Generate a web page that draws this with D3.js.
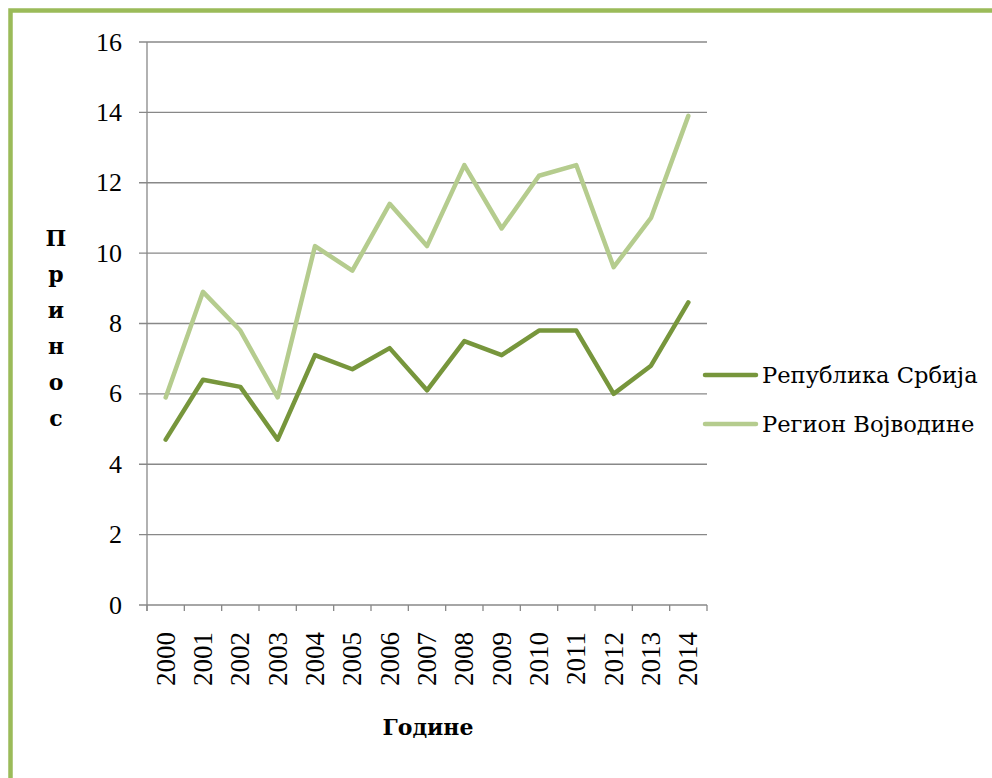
<!DOCTYPE html>
<html><head><meta charset="utf-8">
<script src="https://cdn.jsdelivr.net/npm/d3@7"></script>
<style>body{margin:0;background:#fff}svg{display:block}</style>
</head><body>
<svg id="c" width="992" height="778"></svg>
<script>
const years = ["2000","2001","2002","2003","2004","2005","2006","2007","2008","2009","2010","2011","2012","2013","2014"];
const srbija = [4.7,6.4,6.2,4.7,7.1,6.7,7.3,6.1,7.5,7.1,7.8,7.8,6.0,6.8,8.6];
const vojvodina = [5.9,8.9,7.8,5.9,10.2,9.5,11.4,10.2,12.5,10.7,12.2,12.5,9.6,11.0,13.9];
const seriesNames = ["Република Србија","Регион Војводине"];
const yTicks = [0,2,4,6,8,10,12,14,16];
const yTitle = "Принос";
const xTitle = "Године";

const svg = d3.select("#c");
const font = "'Liberation Serif', serif";
const font2 = "'DejaVu Serif', serif";
// frame
svg.append("path").attr("d","M10.5,778 L10.5,10.5 L992,10.5").attr("fill","none").attr("stroke","#9BBB59").attr("stroke-width",4.5);

const L=147, R=707, T=42, B=605;
const x = d3.scaleBand().domain(years).range([L,R]);
const y = d3.scaleLinear().domain([0,16]).range([B,T]);

// gridlines
svg.append("g").selectAll("line").data(yTicks).join("line")
  .attr("x1",L-8).attr("x2",R).attr("y1",d=>y(d)).attr("y2",d=>y(d))
  .attr("stroke","#888").attr("stroke-width",1.3);
// y axis line
svg.append("line").attr("x1",L).attr("x2",L).attr("y1",T).attr("y2",B+6).attr("stroke","#888").attr("stroke-width",1.3);
// x ticks
const xt = years.map((d,i)=>x(d)).concat([R]);
svg.append("g").selectAll("line").data(xt).join("line")
  .attr("x1",d=>d).attr("x2",d=>d).attr("y1",B).attr("y2",B+6).attr("stroke","#888").attr("stroke-width",1.3);
// y labels
svg.append("g").selectAll("text").data(yTicks).join("text")
  .attr("x",122).attr("y",d=>y(d)).attr("dy","0.33em").attr("text-anchor","end")
  .attr("font-family",font).attr("font-size",26).attr("fill","#000").text(d=>d);
// x labels
svg.append("g").selectAll("text").data(years).join("text")
  .attr("transform",d=>`translate(${x(d)+x.bandwidth()/2},632) rotate(-90)`)
  .attr("dy","0.33em").attr("text-anchor","end")
  .attr("font-family",font).attr("font-size",27).attr("fill","#000").text(d=>d);

const line = d3.line().x((d,i)=>x(years[i])+x.bandwidth()/2).y(d=>y(d));
const colors = ["#77963C","#B5CC8E"];
[vojvodina, srbija].forEach((s,k)=>{
  svg.append("path").attr("d",line(s)).attr("fill","none")
    .attr("stroke",colors[1-k]).attr("stroke-width",4.5).attr("stroke-linejoin","round").attr("stroke-linecap","round");
});

// legend
seriesNames.forEach((n,i)=>{
  const ly = 375 + i*49;
  svg.append("line").attr("x1",705).attr("x2",756).attr("y1",ly).attr("y2",ly)
    .attr("stroke",colors[i]).attr("stroke-width",4.5).attr("stroke-linecap","round");
  svg.append("text").attr("x",762).attr("y",ly).attr("dy","0.35em")
    .attr("font-family",font2).attr("font-size",22.6).attr("fill","#000").text(n);
});

// y title stacked
svg.append("g").selectAll("text").data(Array.from(yTitle)).join("text")
  .attr("x",56).attr("y",(d,i)=>238+i*36).attr("dy","0.35em").attr("text-anchor","middle")
  .attr("font-family",font2).attr("font-weight","bold").attr("font-size",22).text(d=>d);
svg.append("text").attr("x",428).attr("y",727).attr("dy","0.35em").attr("text-anchor","middle")
  .attr("font-family",font2).attr("font-weight","bold").attr("font-size",22).text(xTitle);
</script>
</body></html>
